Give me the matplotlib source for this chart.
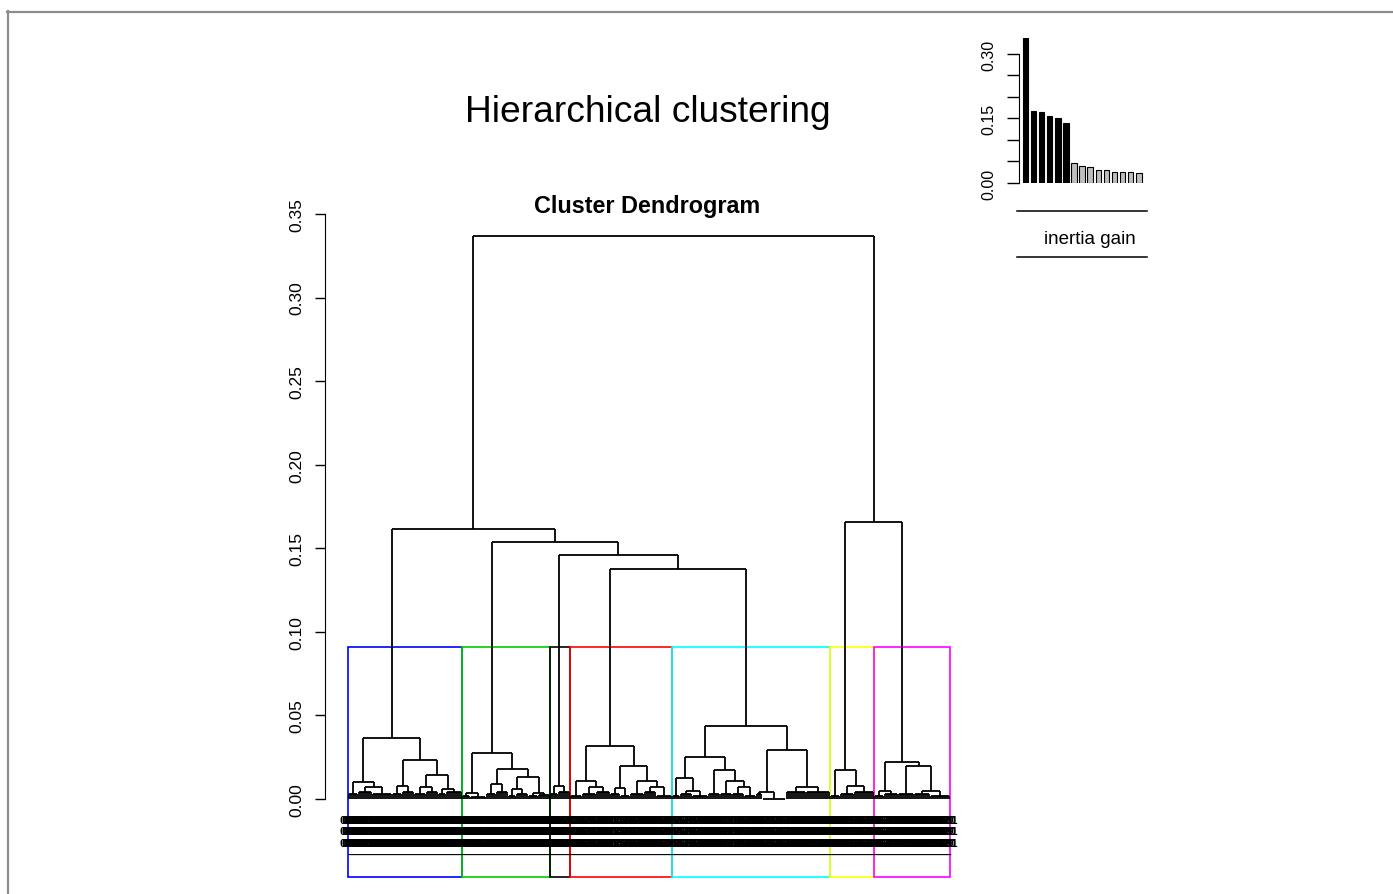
import numpy as np
import matplotlib.pyplot as plt
from matplotlib.collections import LineCollection
from matplotlib.patches import Rectangle
from matplotlib.lines import Line2D

plt.rcParams['font.family'] = ['Liberation Sans', 'DejaVu Sans']

W, H = 1393, 895

# --- data ----------------------------------------------------------------
# node = (height, [children]); a leaf group = (height, n_leaves)
blue_tree = (0.0365, [(0.0102, [(0.003, 5), (0.007, [(0.004, 7), (0.003, 10)])]),
                      (0.0233, [(0.008, [(0.003, 5), (0.004, 6)]),
                                (0.0145, [(0.007, [(0.003, 6), (0.004, 6)]),
                                          (0.006, [(0.003, 4), (0.004, 8)])])])])
green_tree = (0.0273, [(0.0035, [(0.002, 4), (0.001, 8)]),
                       (0.018, [(0.009, [(0.003, 5), (0.004, 6)]),
                                (0.0133, [(0.006, [(0.002, 4), (0.003, 6)]),
                                          (0.0035, [(0.002, 5), (0.0025, 6)])])])])
black_tree = (0.008, [(0.003, 4), (0.004, 6)])
red_tree = (0.0317, [(0.011, [(0.002, 6), (0.007, [(0.003, 7), (0.004, 7)])]),
                     (0.020, [(0.0065, [(0.003, 5), (0.002, 5)]),
                              (0.011, [(0.003, 7), (0.007, [(0.004, 6), (0.002, 8)])])])])
cyan_tree = (0.0439, [(0.025, [(0.0124, [(0.002, 4), (0.005, [(0.003, 6), (0.002, 8)])]),
                               (0.0176, [(0.003, 6),
                                         (0.011, [(0.003, 6), (0.007, [(0.003, 6), (0.002, 6)])])])]),
                      (0.0293, [(0.0044, [(0.003, 3), (0.0, 12)]),
                                (0.007, [(0.004, 10), (0.004, 12)])])])
yellow_tree = (0.0176, [(0.002, 5), (0.008, [(0.003, 7), (0.004, 10)])])
magenta_tree = (0.0223, [(0.005, [(0.002, 5), (0.003, 7)]),
                         (0.0195, [(0.003, 8), (0.005, [(0.003, 8), (0.002, 10)])])])

clusters = [blue_tree, green_tree, black_tree, red_tree, cyan_tree, yellow_tree, magenta_tree]
cluster_colors = ['#0000FF', '#00CD00', '#000000', '#FF0000', '#00FFFF', '#FFFF00', '#FF00FF']

full_tree = (0.337, [(0.1615, [blue_tree,
                               (0.1538, [green_tree,
                                         (0.146, [black_tree,
                                                  (0.1376, [red_tree, cyan_tree])])])]),
                     (0.1657, [yellow_tree, magenta_tree])])

inertia_gain = [0.3365, 0.168, 0.1643, 0.155, 0.151, 0.139, 0.0465, 0.040,
                0.0364, 0.031, 0.031, 0.026, 0.026, 0.026, 0.023]
n_clust = 7


def n_leaves(node):
    h, kids = node
    if isinstance(kids, int):
        return kids
    return sum(n_leaves(k) for k in kids)


def all_heights(node):
    h, kids = node
    if isinstance(kids, int):
        return [h]
    out = [h]
    for k in kids:
        out += all_heights(k)
    return out


segments = []


def walk(node, start):
    """lay out the tree R-style, leaves at 1..n, returns x of the node"""
    h, kids = node
    if isinstance(kids, int):
        xs = start + np.arange(kids) + 1.0
        for x in xs:
            segments.append([(x, 0), (x, h)])
        segments.append([(xs[0], h), (xs[-1], h)])
        return (xs[0] + xs[-1]) / 2
    xs = []
    n = 0
    for k in kids:
        x = walk(k, start + n)
        segments.append([(x, k[0]), (x, h)])
        xs.append(x)
        n += n_leaves(k)
    segments.append([(xs[0], h), (xs[-1], h)])
    return (xs[0] + xs[-1]) / 2


n_total = n_leaves(full_tree)
leaf_labels = [f"{i:03d}" for i in range(1, n_total + 1)]


def px_box(left, top, right, bottom):
    return [left / W, 1 - bottom / H, (right - left) / W, (bottom - top) / H]


fig = plt.figure(figsize=(W / 100, H / 100), dpi=100)

# --- dendrogram --------------------------------------------------------------
ax = fig.add_axes(px_box(325, 215, 975, 878))
top_x = walk(full_tree, 0)
ax.add_collection(LineCollection(segments, colors='black', linewidths=1.3, clip_on=False))

ybot = -0.0467
ax.set_xlim(-11, 314)
ax.set_ylim(ybot, 0.35)

hs = sorted(all_heights(full_tree), reverse=True)
rect_top = (hs[n_clust - 2] + hs[n_clust - 1]) / 2
start = 0
for tree, col in zip(clusters, cluster_colors):
    m = n_leaves(tree)
    left = start + 0.66
    right = start + m + 0.33
    ax.add_patch(Rectangle((left, ybot), right - left, rect_top - ybot, fill=False,
                           edgecolor=col, linewidth=1.2, clip_on=False))
    start += m

for i, lab in enumerate(leaf_labels):
    ax.text(i + 1, -0.0094, f"{lab}\n{lab}\n{lab}\n-", ha='center', va='top',
            fontsize=8, fontweight='bold', linespacing=1.18, clip_on=False)

for s in ['top', 'right', 'bottom']:
    ax.spines[s].set_visible(False)
ax.spines['left'].set_bounds(0, 0.35)
ax.set_xticks([])
yt = np.arange(0, 0.351, 0.05)
ax.set_yticks(yt)
ax.set_yticklabels([f"{v:.2f}" for v in yt], rotation=90, va='center', fontsize=12.5)
ax.tick_params(axis='y', length=7, width=1, pad=8)

fig.text(648 / W, 1 - 112 / H, 'Hierarchical clustering', ha='center', va='center', fontsize=26.7)
fig.text(647 / W, 1 - 207 / H, 'Cluster Dendrogram', ha='center', va='center',
         fontsize=16.8, fontweight='bold')

# --- inertia gain inset ---------------------------------------------------
ax2 = fig.add_axes(px_box(1019, 39, 1147, 184))
bx = 0.7 + 1.2 * np.arange(len(inertia_gain))
bar_cols = ['black'] * (n_clust - 1) + ['#BEBEBE'] * (len(inertia_gain) - n_clust + 1)
ax2.bar(bx, inertia_gain, width=0.82, color=bar_cols, edgecolor='black', linewidth=0.8)
ax2.set_xlim(-0.244, 18.72)
ax2.set_ylim(0, 0.3372)
for s in ['top', 'right', 'bottom']:
    ax2.spines[s].set_visible(False)
ax2.spines['left'].set_bounds(0, 0.30)
ax2.set_xticks([])
it = np.arange(0, 0.301, 0.05)
ax2.set_yticks(it)
ax2.set_yticklabels([f"{v:.2f}" if i % 3 == 0 else "" for i, v in enumerate(it)],
                    rotation=90, va='center', fontsize=11.5)
ax2.tick_params(axis='y', length=8.5, width=1, pad=8)

fig.add_artist(Line2D([1017 / W, 1147 / W], [1 - 212 / H] * 2, color='black', lw=1.1))
fig.add_artist(Line2D([1017 / W, 1147 / W], [1 - 258 / H] * 2, color='black', lw=1.1))
fig.text(1090 / W, 1 - 239 / H, 'inertia gain', ha='center', va='center', fontsize=13.5)

# window frame of the screenshot
fig.add_artist(Line2D([7 / W, 1], [1 - 13 / H] * 2, color='#8c8c8c', lw=1.6))
fig.add_artist(Line2D([7.5 / W] * 2, [0, 1 - 12 / H], color='#8c8c8c', lw=1.6))

fig.savefig('out.png', dpi=100)
